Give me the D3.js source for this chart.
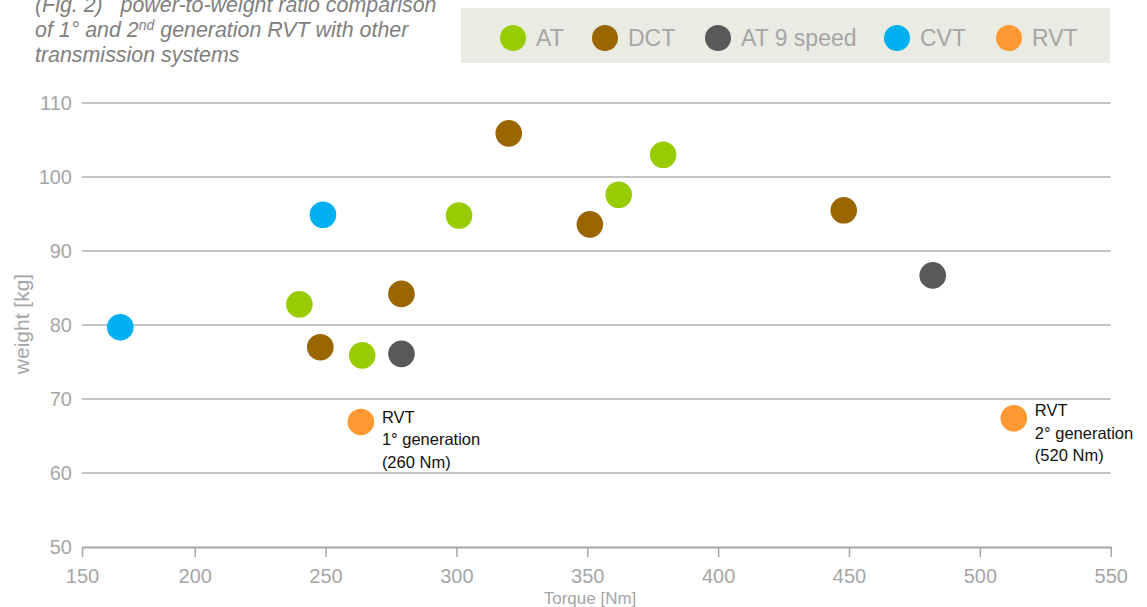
<!DOCTYPE html>
<html><head><meta charset="utf-8">
<script src="https://cdn.jsdelivr.net/npm/d3@7"></script>
<style>body{margin:0;background:#fff}svg{display:block}svg text{font-family:"Liberation Sans",Arial,sans-serif}</style>
</head><body><svg id="c" width="1147" height="607"></svg>
<script>
const seriesNames = ["AT","DCT","AT 9 speed","CVT","RVT"];
const seriesColors = ["#99cc00","#996600","#595959","#00b0f0","#ff9933"];
const atTorque = [240, 264, 301, 362, 379];
const atWeight = [82.8, 75.9, 94.8, 97.6, 103.0];
const dctTorque = [248, 279, 320, 351, 448];
const dctWeight = [77.0, 84.2, 105.9, 93.6, 95.5];
const at9Torque = [279, 482];
const at9Weight = [76.1, 86.7];
const cvtTorque = [167, 249];
const cvtWeight = [79.7, 94.9];
const rvtTorque = [263.5, 513];
const rvtWeight = [66.9, 67.4];
const rvtNotes = [["RVT","1° generation","(260 Nm)"],["RVT","2° generation","(520 Nm)"]];
const xTicks = [150,200,250,300,350,400,450,500,550];
const yTicks = [50,60,70,80,90,100,110];

const svg = d3.select("#c");
const grey = "#a6a6a6";
// axis scale: first interval is drawn narrower, as in the source
const x = d3.scaleLinear().domain([150,200,550]).range([82,194.7,1110.7]);
const y = d3.scaleLinear().domain([50,110]).range([547,103]);

// gridlines
svg.append("g").selectAll("line").data(yTicks.filter(d=>d>50)).join("line")
  .attr("x1",x(150)).attr("x2",x(550)).attr("y1",d=>y(d)).attr("y2",d=>y(d))
  .attr("stroke","#b0b0b0").attr("stroke-width",1.3);

// x axis
const xa = svg.append("g").attr("transform",`translate(0,${y(50)})`)
  .call(d3.axisBottom(x).tickValues(xTicks).tickSize(10).tickSizeOuter(0).tickPadding(12));
xa.select(".domain").attr("stroke",grey).attr("stroke-width",2);
xa.selectAll(".tick line").attr("stroke",grey).attr("stroke-width",1.5);
xa.selectAll("text").attr("fill",grey).style("font-size","20px");

// y axis labels
const ya = svg.append("g").attr("transform",`translate(${x(150)},0)`)
  .call(d3.axisLeft(y).tickValues(yTicks).tickSize(0).tickPadding(10));
ya.select(".domain").remove();
ya.selectAll("text").attr("fill",grey).style("font-size","20px");

svg.append("text").attr("transform",`translate(29,${(y(50)+y(110))/2 - 1}) rotate(-90)`)
  .attr("text-anchor","middle").attr("fill",grey).style("font-size","21px").text("weight [kg]");
svg.append("text").attr("x",590).attr("y",604).attr("text-anchor","middle")
  .attr("fill",grey).style("font-size","17px").text("Torque [Nm]");

// points
const groups = [[atTorque,atWeight],[dctTorque,dctWeight],[at9Torque,at9Weight],[cvtTorque,cvtWeight],[rvtTorque,rvtWeight]];
groups.forEach((g,i)=>{
  const pts = g[0].map((t,j)=>({t, w:g[1][j]}));
  svg.append("g").selectAll("circle").data(pts).join("circle")
    .attr("cx",d=>x(d.t)).attr("cy",d=>y(d.w)).attr("r",13.3).attr("fill",seriesColors[i]);
});

// RVT notes
rvtTorque.forEach((t,i)=>{
  const tx = svg.append("text").style("font-size","16.5px").attr("fill","#111");
  rvtNotes[i].forEach((s,k)=>{
    tx.append("tspan").attr("x",x(t)+21).attr("y",y(rvtWeight[i]) + (i===0?1:-2) + k*22.5).text(s);
  });
});

// title
const title = svg.append("text").style("font-size","21.4px").attr("font-style","italic").attr("fill","#808080");
title.append("tspan").attr("x",35).attr("y",12).attr("xml:space","preserve").text("(Fig. 2)   power-to-weight ratio comparison");
title.append("tspan").attr("x",35).attr("y",37).text("of 1° and 2");
title.append("tspan").attr("dy",-7).style("font-size","14px").text("nd");
title.append("tspan").attr("dy",7).text(" generation RVT with other");
title.append("tspan").attr("x",35).attr("y",62).text("transmission systems");

// legend
svg.append("rect").attr("x",461).attr("y",8).attr("width",649).attr("height",55).attr("fill","#eaebe2");
const legX = [513,605,718,897,1009];
const lg = svg.append("g").selectAll("g").data(seriesNames).join("g")
  .attr("transform",(d,i)=>`translate(${legX[i]},38)`);
lg.append("circle").attr("r",13).attr("fill",(d,i)=>seriesColors[i]);
lg.append("text").attr("x",23).attr("y",8).style("font-size","23px").attr("fill",grey).text(d=>d);
</script></body></html>
